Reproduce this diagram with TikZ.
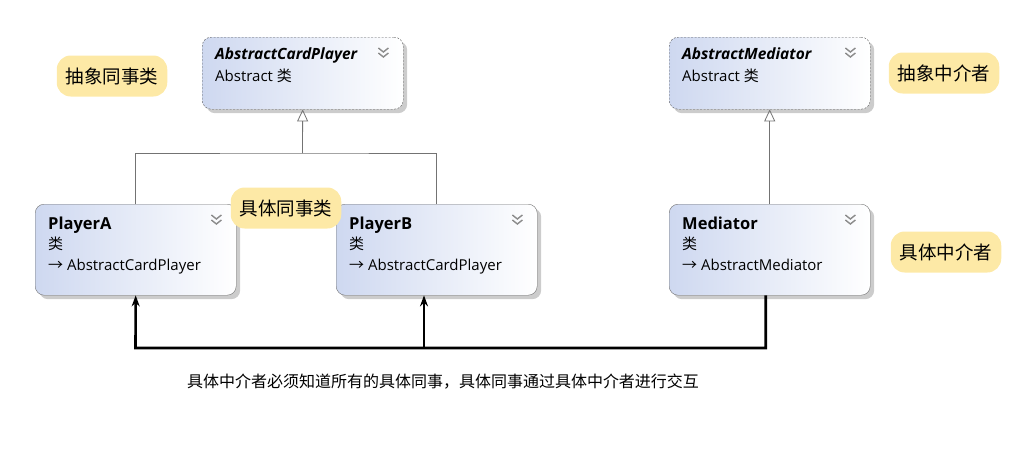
\documentclass[tikz,border=0pt]{standalone}
\usepackage{fontspec}
\setmainfont{Open Sans}
\newfontfamily\cjk{Noto Sans CJK SC}
\usetikzlibrary{arrows.meta, shadows, calc}
\definecolor{clsblue}{RGB}{206,216,240}
\definecolor{notey}{RGB}{253,233,166}

\begin{document}
\begin{tikzpicture}[x=1pt, y=-1pt,
  cls/.style={draw=black!55, rounded corners=9pt, left color=clsblue, right color=white,
    minimum width=201pt, minimum height=91pt, anchor=north west, inner sep=0pt,
    drop shadow={shadow xshift=4pt, shadow yshift=-4pt, fill=black!20, opacity=1}},
  abscls/.style={cls, dash pattern=on 2pt off 1.5pt, draw=black!65, minimum height=72pt},
  ttl/.style={anchor=base west, inner sep=0pt, font=\bfseries\fontsize{16.5}{19}\selectfont},
  absttl/.style={anchor=base west, inner sep=0pt, font=\bfseries\itshape\fontsize{15.5}{18}\selectfont},
  sub/.style={anchor=base west, inner sep=0pt, font=\fontsize{15}{18}\selectfont},
  chevron/.pic={\draw[black!45, line width=1.4pt] (-5,-5) -- (0,-1) -- (5,-5) (-5,0) -- (0,4) -- (5,0);},
  note/.style={fill=notey, rounded corners=14pt, minimum height=41pt, inner xsep=9pt,
    font=\cjk\fontsize{18.5}{21}\selectfont},
  inh/.style={draw=black!55, line width=0.8pt},
  link/.style={line width=2.6pt, -{Stealth[length=11pt, width=8pt]}}]
\useasboundingbox (0,0) rectangle (1010,455);

\path (202,37) node[abscls] (acp) {}
      (669,37) node[abscls] (am) {}
      (35,204) node[cls] (pa) {}
      (336,204) node[cls] (pb) {}
      (669,204) node[cls] (med) {};

\node[absttl] (acpt) at ($(acp.north west)+(13,22)$) {AbstractCardPlayer};
\node[sub] (acps) at ($(acp.north west)+(13,44)$) {Abstract {\cjk 类}};
\pic at ($(acp.north east)+(-20,16)$) {chevron};
\node[absttl] (amt) at ($(am.north west)+(13,22)$) {AbstractMediator};
\node[sub] (ams) at ($(am.north west)+(13,44)$) {Abstract {\cjk 类}};
\pic at ($(am.north east)+(-20,16)$) {chevron};

\node[ttl] (pat) at ($(pa.north west)+(13,25)$) {PlayerA};
\node[sub] (pac) at ($(pa.north west)+(13,45)$) {\cjk 类};
\node[sub] (pas) at ($(pa.north west)+(13,66)$) {{\cjk →} AbstractCardPlayer};
\pic at ($(pa.north east)+(-20,16)$) {chevron};
\node[ttl] (pbt) at ($(pb.north west)+(13,25)$) {PlayerB};
\node[sub] (pbc) at ($(pb.north west)+(13,45)$) {\cjk 类};
\node[sub] (pbs) at ($(pb.north west)+(13,66)$) {{\cjk →} AbstractCardPlayer};
\pic at ($(pb.north east)+(-20,16)$) {chevron};
\node[ttl] (medt) at ($(med.north west)+(13,25)$) {Mediator};
\node[sub] (medc) at ($(med.north west)+(13,45)$) {\cjk 类};
\node[sub] (meds) at ($(med.north west)+(13,66)$) {{\cjk →} AbstractMediator};
\pic at ($(med.north east)+(-20,16)$) {chevron};

\coordinate (jn) at (302.5,153);
\draw[inh] (pa.north) |- (jn) -| (pb.north);
\draw[inh, -{Triangle[open, length=12pt, width=11pt]}] (jn) -- (acp.south);
\draw[inh, -{Triangle[open, length=12pt, width=11pt]}] (med.north) -- (am.south);

\node[note] (n1) at (112,76) {抽象同事类};
\node[note] (n2) at (286,208) {具体同事类};
\node[note] (n3) at (944,73) {抽象中介者};
\node[note] (n4) at (946,252) {具体中介者};

\coordinate (b1) at (135.5,348);
\coordinate (b2) at (424,348);
\draw[link] ([xshift=-4pt]med.south) |- (b1) -- (pa.south);
\draw[link] (b2) -- (b2 |- pb.south);

\node[font=\cjk\fontsize{16}{19}\selectfont] (txt) at (443,382)
  {具体中介者必须知道所有的具体同事，具体同事通过具体中介者进行交互};
\end{tikzpicture}
\end{document}
